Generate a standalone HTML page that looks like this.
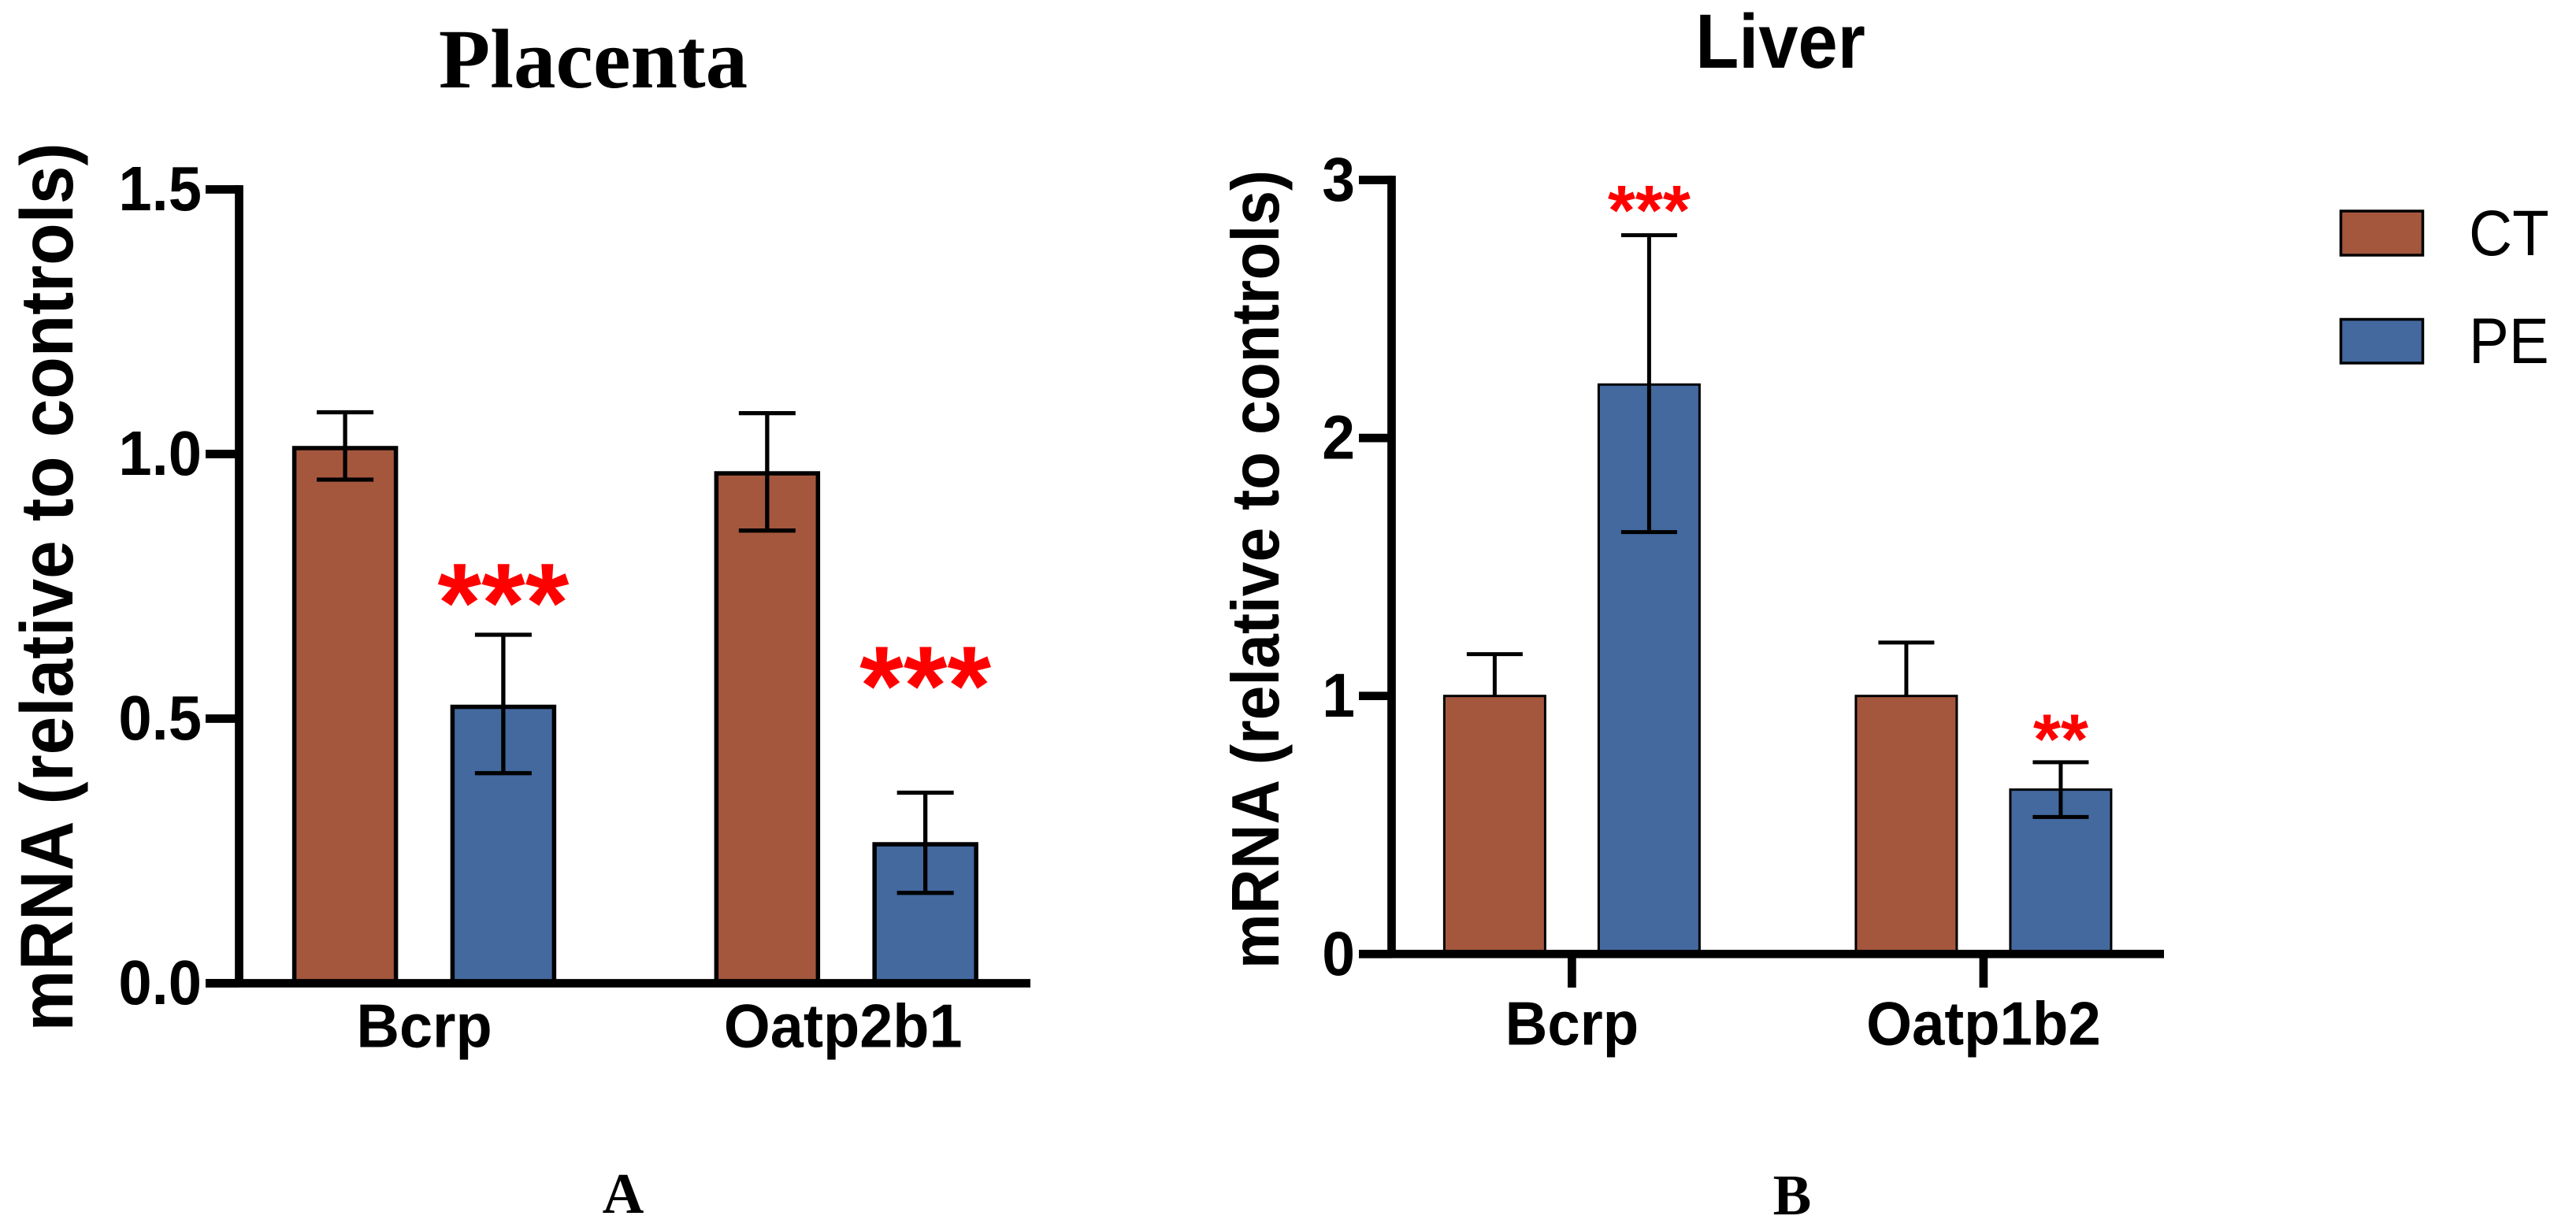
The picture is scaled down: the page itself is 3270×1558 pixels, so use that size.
<!DOCTYPE html>
<html lang="en">
<head>
<meta charset="utf-8">
<title>mRNA expression in placenta and liver</title>
<style>
html,body{margin:0;padding:0;background:#fff;width:3270px;height:1558px;overflow:hidden}
svg{display:block}
text{font-family:"Liberation Sans",Arial,sans-serif;fill:#000}
.serif{font-family:"Liberation Serif","Times New Roman",serif;font-weight:bold}
.bold{font-weight:bold}
</style>
</head>
<body>
<svg id="figure" xmlns="http://www.w3.org/2000/svg" width="3270" height="1558" viewBox="0 0 3270 1558">
  <rect x="0" y="0" width="3270" height="1558" fill="#fff"/>
  <text class="serif" x="753" y="111" font-size="107" text-anchor="middle">Placenta</text>
  <text class="bold" transform="translate(2260 86) scale(0.93 1)" font-size="97" text-anchor="middle">Liver</text>
  <text class="serif" x="791" y="1540" font-size="73" text-anchor="middle">A</text>
  <text class="serif" x="2275" y="1542" font-size="73" text-anchor="middle">B</text>
  <text class="bold" transform="translate(92 745.5) rotate(-90) scale(0.92 1)" font-size="95" text-anchor="middle">mRNA (relative to controls)</text>
  <text class="bold" transform="translate(1623 723) rotate(-90) scale(0.92 1)" font-size="85.4" text-anchor="middle">mRNA (relative to controls)</text>
  <g id="placenta-chart"></g>
  <g id="liver-chart"></g>
  <g>
    <rect x="2971.5" y="268" width="104" height="56" fill="#A4573D" stroke="#000" stroke-width="3.5"/>
    <text transform="translate(3134 324) scale(0.93 1)" font-size="82">CT</text>
    <rect x="2971.5" y="405.5" width="104" height="55.5" fill="#43699F" stroke="#000" stroke-width="3.5"/>
    <text transform="translate(3134 461) scale(0.93 1)" font-size="82">PE</text>
  </g>
</svg>
<script>
// Placenta data
const placentaCategories = ["Bcrp", "Oatp2b1"];
const placentaCt = [1.0112, 0.9635];
const placentaPe = [0.5223, 0.2626];
const placentaCtHigh = [1.0789, 1.0772];
const placentaCtLow = [0.9516, 0.8554];
const placentaPeHigh = [0.6585, 0.3601];
const placentaPeLow = [0.397, 0.1708];
const placentaStarLevels = [0.7127, 0.556];
const placentaStarLabels = ["***", "***"];
const placentaTicks = [0, 0.5, 1.0, 1.5];
const placentaTickLabels = ["0.0", "0.5", "1.0", "1.5"];

// Liver data
const liverCategories = ["Bcrp", "Oatp1b2"];
const liverCt = [1.0, 1.0];
const liverPe = [2.207, 0.637];
const liverCtHigh = [1.162, 1.207];
const liverCtLow = [null, null];
const liverPeHigh = [2.786, 0.743];
const liverPeLow = [1.635, 0.531];
const liverStarLevels = [2.874, 0.825];
const liverStarLabels = ["***", "**"];
const liverTicks = [0, 1, 2, 3];
const liverTickLabels = ["0", "1", "2", "3"];

const SVG_NS = "http://www.w3.org/2000/svg";

function mk(parent, tag, props, content) {
  const el = document.createElementNS(SVG_NS, tag);
  for (const k in props) el.setAttribute(k, props[k]);
  if (content !== undefined) el.textContent = content;
  parent.appendChild(el);
  return el;
}

function drawPanel(root, c) {
  const yScale = v => c.y0 - v * c.unit;
  const groupX = i => c.groupStart + i * c.groupStep;
  const barX = (i, s) => groupX(i) + (s - 0.5) * c.pitch;
  const seriesNames = ["ct", "pe"];
  const seriesFill = ["#A4573D", "#43699F"];
  const seriesValues = [c.ct, c.pe];
  const seriesHigh = [c.ctHigh, c.peHigh];
  const seriesLow = [c.ctLow, c.peLow];

  c.categories.forEach((cat, i) => {
    [0, 1].forEach(s => {
      const cx = barX(i, s);
      const top = yScale(seriesValues[s][i]);
      const bar = mk(root, "rect", {
        x: cx - c.barWidth / 2, y: top, width: c.barWidth, height: c.y0 - top,
        fill: seriesFill[s], stroke: "#000", "stroke-width": c.barStroke
      });
      
      
    });
  });

  c.categories.forEach((cat, i) => {
    [0, 1].forEach(s => {
      const cx = barX(i, s);
      const hiV = seriesHigh[s][i];
      const loV = seriesLow[s][i];
      const hi = yScale(hiV);
      const lo = loV === null ? yScale(seriesValues[s][i]) : yScale(loV);
      const g = mk(root, "g", { stroke: "#000", "stroke-width": c.errStroke, fill: "none" });
      
      
      mk(g, "line", { x1: cx, x2: cx, y1: hi, y2: lo });
      mk(g, "line", { x1: cx - c.capWidth / 2, x2: cx + c.capWidth / 2, y1: hi, y2: hi });
      if (loV !== null) {
        mk(g, "line", { x1: cx - c.capWidth / 2, x2: cx + c.capWidth / 2, y1: lo, y2: lo });
      }
    });
    const starEm = c.starSize;
    const star = mk(root, "text", {
      x: barX(i, 1) + c.starShift, y: yScale(c.starLevels[i]) + 0.315 * starEm,
      "font-size": starEm, "font-weight": "bold", "text-anchor": "middle", style: "fill:#f00"
    }, c.starLabels[i]);
    
    

    const label = mk(root, "text", {
      transform: "translate(" + (groupX(i) + c.catShift[i]) + " " + c.catBaseline + ") scale(" + c.textScale + " 1)",
      "font-size": c.catSize, "font-weight": "bold", "text-anchor": "middle"
    }, cat);
    
    

    if (c.xTickBottom) {
      const xt = mk(root, "line", {
        x1: groupX(i), x2: groupX(i), y1: c.y0, y2: c.xTickBottom,
        stroke: "#000", "stroke-width": c.axisStroke
      });
      
      
    }
  });

  const half = c.axisStroke / 2;
  const yAxis = mk(root, "line", {
    x1: c.axisX, x2: c.axisX, y1: yScale(c.ticks[c.ticks.length - 1]) - half, y2: c.y0,
    stroke: "#000", "stroke-width": c.axisStroke
  });
  
  

  const xAxis = mk(root, "line", {
    x1: c.tickLeft, x2: c.axisRight, y1: c.y0, y2: c.y0,
    stroke: "#000", "stroke-width": c.axisStroke
  });
  
  

  c.ticks.forEach((t, i) => {
    const y = yScale(t);
    const tick = mk(root, "line", {
      x1: c.tickLeft, x2: c.axisX, y1: y, y2: y, stroke: "#000", "stroke-width": c.axisStroke
    });
    
    
    const tl = mk(root, "text", {
      transform: "translate(" + c.tickLabelX + " " + (y + c.tickLabelDy) + ") scale(" + c.tickScale + " 1)",
      "font-size": c.tickSize, "font-weight": "bold", "text-anchor": "end"
    }, c.tickLabels[i]);
    
    
  });
}

drawPanel(document.getElementById("placenta-chart"), {
  categories: placentaCategories, ct: placentaCt, pe: placentaPe,
  ctHigh: placentaCtHigh, ctLow: placentaCtLow, peHigh: placentaPeHigh, peLow: placentaPeLow,
  starLevels: placentaStarLevels, starLabels: placentaStarLabels,
  ticks: placentaTicks, tickLabels: placentaTickLabels,
  y0: 1248.5, unit: 672, axisX: 303.5, axisRight: 1308, tickLeft: 261, axisStroke: 10.7,
  groupStart: 538.5, groupStep: 535.75, pitch: 200.8,
  barWidth: 129, barStroke: 5.5, errStroke: 5.3, capWidth: 72,
  starSize: 143, starShift: 0, catShift: [0, -4], catBaseline: 1329.5, catSize: 78, textScale: 0.97,
  tickLabelX: 256, tickLabelDy: 26.5, tickSize: 80, tickScale: 0.95, xTickBottom: 0
});

drawPanel(document.getElementById("liver-chart"), {
  categories: liverCategories, ct: liverCt, pe: liverPe,
  ctHigh: liverCtHigh, ctLow: liverCtLow, peHigh: liverPeHigh, peLow: liverPeLow,
  starLevels: liverStarLevels, starLabels: liverStarLabels,
  ticks: liverTicks, tickLabels: liverTickLabels,
  y0: 1211.3, unit: 327.6, axisX: 1766.5, axisRight: 2747, tickLeft: 1725, axisStroke: 10.7,
  groupStart: 1995.4, groupStep: 522.5, pitch: 196,
  barWidth: 128, barStroke: 3, errStroke: 5, capWidth: 71,
  starSize: 90, starShift: 0, catShift: [0, 0], catBaseline: 1326.7, catSize: 77.5, textScale: 0.96,
  tickLabelX: 1720, tickLabelDy: 26.5, tickSize: 79, tickScale: 0.95, xTickBottom: 1254
});
</script>
</body>
</html>
